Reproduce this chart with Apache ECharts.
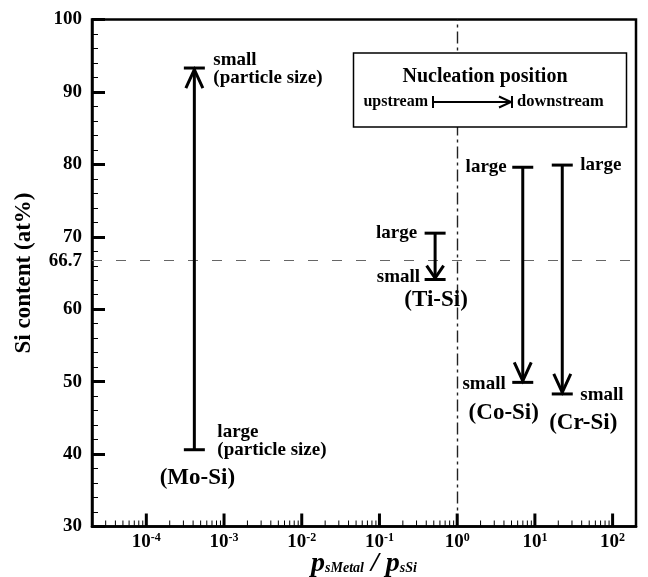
<!DOCTYPE html>
<html><head><meta charset="utf-8">
<script src="https://cdn.jsdelivr.net/npm/echarts@6/dist/echarts.min.js"></script>
<style>html,body{margin:0;padding:0;background:#fff}#c{width:648px;height:577px}</style>
</head><body><div id="c"></div>
<script>
// ---- data ----
const systems = ['Mo-Si', 'Ti-Si', 'Co-Si', 'Cr-Si'];
const pressureRatio = [4.15e-4, 0.52, 6.98, 22.5];      // p_sMetal / p_sSi
const siLargeParticle = [40.6, 70.5, 79.6, 79.9];       // Si at% for large particles (start)
const siSmallParticle = [93.3, 64.1, 49.9, 48.3];       // Si at% for small particles (end)
const yTickValues = [30, 40, 50, 60, 70, 80, 90, 100];
const stoichiometricSi = 66.7;
const xMajorExponents = [-4, -3, -2, -1, 0, 1, 2];
const xRange = [2e-5, 200];
const yRange = [30, 100];

// ---- layout / style (code) ----
const FONT = '"Liberation Serif", "Times New Roman", serif';
const labelFont = 'bold 19px ' + FONT;
const nameFont = 'bold 23px ' + FONT;
const layout = {
  'Mo-Si': {
    start: [['large', 23, -18, 'left'], ['(particle size)', 23, 0, 'left']],
    end: [['small', 19, -8, 'left'], ['(particle size)', 19, 10, 'left']],
    name: ['start', 3, 28]
  },
  'Ti-Si': {
    start: [['large', -18, 0, 'right']],
    end: [['small', -15, -2, 'right']],
    name: ['end', 1, 21]
  },
  'Co-Si': {
    start: [['large', -16, 0, 'right']],
    end: [['small', -17, 2, 'right']],
    name: ['end', -19, 31]
  },
  'Cr-Si': {
    start: [['large', 18, 0, 'left']],
    end: [['small', 18, 1, 'left']],
    name: ['end', 21, 29]
  }
};

// x tick marks (major powers of ten, minor 2..9 multiples)
const xTickData = [];
for (let e = -5; e <= 2; e++) {
  for (let m = 1; m <= 9; m++) {
    const v = m * Math.pow(10, e);
    if (v >= xRange[0] * 0.999 && v <= xRange[1] * 1.001) xTickData.push([v, m === 1 ? 1 : 0]);
  }
}

const arrowData = systems.map((s, i) => [pressureRatio[i], siLargeParticle[i], siSmallParticle[i], i]);

const chart = echarts.init(document.getElementById('c'), null, {renderer: 'canvas'});
chart.setOption({
  animation: false,
  backgroundColor: '#fff',
  grid: {left: 92, right: 12, top: 19.5, bottom: 50.5, outerBoundsMode: 'none', containLabel: false,
    show: true, borderColor: '#000', borderWidth: 2.5, backgroundColor: 'transparent'},
  xAxis: {
    type: 'log', logBase: 10, min: xRange[0], max: xRange[1],
    name: '{p|p}{sub|sMetal}{p| / }{p|p}{sub|sSi}',
    nameLocation: 'middle', nameGap: 23, nameMoveOverlap: false,
    nameTextStyle: {
      rich: {
        p: {fontFamily: FONT, fontStyle: 'italic', fontWeight: 'bold', fontSize: 28, color: '#000'},
        sub: {fontFamily: FONT, fontStyle: 'italic', fontWeight: 'bold', fontSize: 14, color: '#000', padding: [9, 0, 0, 0]}
      }
    },
    axisLine: {show: true, onZero: false, lineStyle: {color: '#000', width: 2.5}},
    axisTick: {show: false},
    splitLine: {show: false},
    minorTick: {show: false},
    axisLabel: {
      show: true, margin: 5, showMinLabel: false, showMaxLabel: false,
      formatter: v => '{b|10}{s|' + Math.round(Math.log10(v)) + '}',
      rich: {
        b: {fontFamily: FONT, fontWeight: 'bold', fontSize: 19, color: '#000'},
        s: {fontFamily: FONT, fontWeight: 'bold', fontSize: 12, color: '#000', padding: [0, 0, 10, 0]}
      }
    }
  },
  yAxis: {
    type: 'value', min: yRange[0], max: yRange[1], interval: 10,
    name: 'Si content (at%)', nameLocation: 'middle', nameGap: 56, nameMoveOverlap: false,
    nameTextStyle: {fontFamily: FONT, fontWeight: 'bold', fontSize: 23, color: '#000'},
    axisLine: {show: true, lineStyle: {color: '#000', width: 2.5}},
    axisTick: {show: true, inside: true, length: 13, lineStyle: {color: '#000', width: 3}},
    minorTick: {show: true, splitNumber: 5, length: 6, lineStyle: {color: '#000', width: 1}},
    splitLine: {show: false},
    axisLabel: {
      margin: 10, color: '#000', fontFamily: FONT, fontWeight: 'bold', fontSize: 19,
      formatter: v => (yTickValues.indexOf(v) >= 0 ? String(v) : '')
    }
  },
  graphic: [
    {type: 'rect', z: 100, shape: {x: 353.5, y: 53, width: 273, height: 74}, style: {fill: '#fff', stroke: '#000', lineWidth: 1.5}},
    {type: 'text', z: 101, style: {text: 'Nucleation position', x: 485, y: 77, textAlign: 'center', textVerticalAlign: 'middle', font: 'bold 20px ' + FONT, fill: '#000'}},
    {type: 'text', z: 101, style: {text: 'upstream', x: 428, y: 102, textAlign: 'right', textVerticalAlign: 'middle', font: 'bold 16px ' + FONT, fill: '#000'}},
    {type: 'text', z: 101, style: {text: 'downstream', x: 517, y: 102, textAlign: 'left', textVerticalAlign: 'middle', font: 'bold 16.5px ' + FONT, fill: '#000'}},
    {type: 'line', z: 101, shape: {x1: 433, y1: 96, x2: 433, y2: 108}, style: {stroke: '#000', lineWidth: 2}},
    {type: 'line', z: 101, shape: {x1: 433, y1: 102, x2: 512, y2: 102}, style: {stroke: '#000', lineWidth: 2}},
    {type: 'line', z: 101, shape: {x1: 512, y1: 96, x2: 512, y2: 108}, style: {stroke: '#000', lineWidth: 2}},
    {type: 'polyline', z: 101, shape: {points: [[499, 96.5], [511, 102], [499, 107.5]]}, style: {stroke: '#000', fill: null, lineWidth: 2}}
  ],
  series: [
    {
      type: 'custom', name: 'xticks', silent: true, z: 5,
      data: xTickData,
      renderItem: (params, api) => {
        const major = api.value(1) === 1;
        const p = api.coord([api.value(0), yRange[0]]);
        const len = major ? 13 : 6;
        return {type: 'line', shape: {x1: p[0], y1: p[1], x2: p[0], y2: p[1] - len},
          style: {stroke: '#000', lineWidth: major ? 3 : 1}};
      }
    },
    {
      type: 'custom', name: 'guides', silent: true, data: [],
      renderItem: () => null,
      markLine: {
        silent: true, symbol: 'none', animation: false,
        data: [
          {xAxis: 1, lineStyle: {color: '#222', width: 1.4, type: [12, 4, 3, 4]}, label: {show: false}},
          {yAxis: stoichiometricSi, lineStyle: {color: '#666', width: 1.2, type: [10, 14]},
            label: {show: true, position: 'start', distance: 10, formatter: String(stoichiometricSi),
              color: '#000', fontFamily: FONT, fontWeight: 'bold', fontSize: 19}}
        ]
      }
    },
    {
      type: 'custom', name: 'arrows', silent: true, z: 10,
      data: arrowData,
      renderItem: (params, api) => {
        const x = api.value(0), yL = api.value(1), yS = api.value(2);
        const sys = systems[api.value(3)];
        const a = api.coord([x, yL]), b = api.coord([x, yS]);
        const dir = Math.sign(b[1] - a[1]);
        const len = Math.abs(b[1] - a[1]);
        const hh = Math.min(20, len * 0.3), hw = 8.5, bw = 10.5;
        const st = {stroke: '#000', lineWidth: 3, fill: null};
        const children = [
          {type: 'line', shape: {x1: a[0], y1: a[1], x2: b[0], y2: b[1]}, style: st},
          {type: 'line', shape: {x1: a[0] - bw, y1: a[1], x2: a[0] + bw, y2: a[1]}, style: st},
          {type: 'line', shape: {x1: b[0] - bw, y1: b[1], x2: b[0] + bw, y2: b[1]}, style: st},
          {type: 'polyline', shape: {points: [[b[0] - hw, b[1] - dir * hh], [b[0], b[1] - 1.5 * dir], [b[0] + hw, b[1] - dir * hh]]}, style: st}
        ];
        const L = layout[sys];
        const addText = (pt, item, font) => children.push({
          type: 'text',
          style: {text: item[0], x: pt[0] + item[1], y: pt[1] + item[2], textAlign: item[3], textVerticalAlign: 'middle', font: font, fill: '#000'}
        });
        L.start.forEach(it => addText(a, it, labelFont));
        L.end.forEach(it => addText(b, it, labelFont));
        const np = L.name[0] === 'start' ? a : b;
        addText(np, ['(' + sys + ')', L.name[1], L.name[2], 'center'], nameFont);
        return {type: 'group', children: children};
      }
    }
  ]
});
</script>
</body></html>
